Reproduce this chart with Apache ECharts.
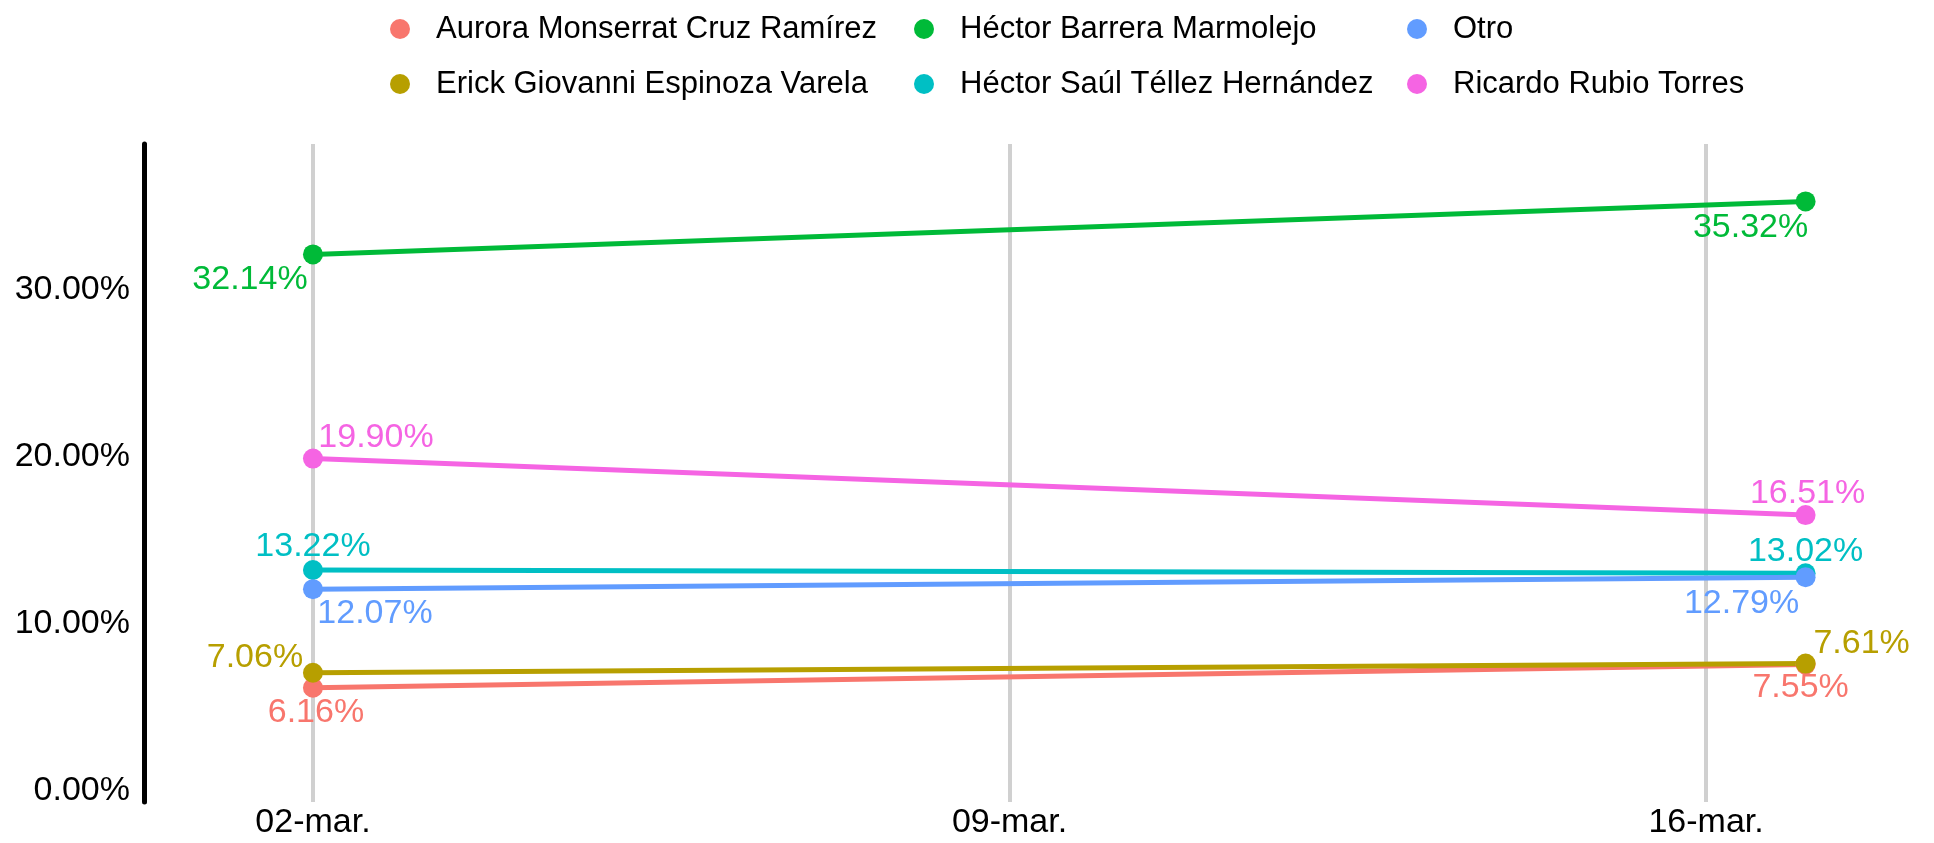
<!DOCTYPE html>
<html>
<head>
<meta charset="utf-8">
<script src="https://cdn.jsdelivr.net/npm/echarts@6/dist/echarts.min.js"></script>
<style>
html, body { margin: 0; padding: 0; background: #fff; }
#main { width: 1934px; height: 843px; }
</style>
</head>
<body>
<div id="main"></div>
<script>
// días de marzo de cada medición
var dias = [2, 17];
var tickDias = [2, 9, 16];
var tickLabels = ['02-mar.', '09-mar.', '16-mar.'];
var yTicks = [0, 10, 20, 30];

var nombres = [
  'Aurora Monserrat Cruz Ramírez',
  'Erick Giovanni Espinoza Varela',
  'Héctor Barrera Marmolejo',
  'Héctor Saúl Téllez Hernández',
  'Otro',
  'Ricardo Rubio Torres'
];
var aurora = [6.16, 7.55];
var erick = [7.06, 7.61];
var barrera = [32.14, 35.32];
var saul = [13.22, 13.02];
var otro = [12.07, 12.79];
var ricardo = [19.90, 16.51];

var colores = ['#F8766D', '#B79F00', '#00BA38', '#00BFC4', '#619CFF', '#F564E3'];
// desplazamiento de etiquetas (px) para que no se encimen
var labelOffsets = [
  [[3, 25], [-5, 23]],
  [[-58, -15], [56, -20]],
  [[-63, 25], [-55, 26]],
  [[0, -23], [0, -22]],
  [[62, 24], [-64, 26]],
  [[63, -21], [2, -21]]
];

var valores = [aurora, erick, barrera, saul, otro, ricardo];
var fuente = 'Liberation Sans, Arial, sans-serif';

var series = valores.map(function (vals, i) {
  return {
    name: nombres[i],
    type: 'line',
    symbol: 'circle',
    symbolSize: 20,
    color: colores[i],
    lineStyle: { width: 5, color: colores[i] },
    emphasis: { disabled: true },
    data: vals.map(function (v, j) {
      return {
        value: [dias[j], v],
        label: { offset: labelOffsets[i][j] }
      };
    }),
    label: {
      show: true,
      position: 'inside',
      align: 'center',
      verticalAlign: 'middle',
      color: colores[i],
      fontSize: 34,
      fontFamily: fuente,
      formatter: function (p) { return p.value[1].toFixed(2) + '%'; }
    }
  };
});

function leyenda(left, items) {
  return {
    orient: 'vertical',
    left: left,
    top: 6,
    itemGap: 19,
    itemWidth: 20,
    itemHeight: 20,
    icon: 'circle',
    selectedMode: false,
    data: items,
    textStyle: {
      fontSize: 31,
      lineHeight: 36,
      color: '#000',
      fontFamily: fuente,
      padding: [0, 0, 0, 21]
    }
  };
}

var myChart = echarts.init(document.getElementById('main'));
myChart.setOption({
  animation: false,
  backgroundColor: '#fff',
  legend: [
    leyenda(385, [nombres[0], nombres[1]]),
    leyenda(909, [nombres[2], nombres[3]]),
    leyenda(1402, [nombres[4], nombres[5]])
  ],
  grid: { left: 144, right: 10, top: 144, bottom: 41 },
  xAxis: {
    type: 'value',
    min: 0.302,
    max: 18.19,
    axisLine: { show: false },
    axisTick: { show: false, customValues: tickDias },
    axisLabel: {
      customValues: tickDias,
      margin: 4,
      fontSize: 34,
      color: '#000',
      fontFamily: fuente,
      formatter: function (v) { return tickLabels[tickDias.indexOf(v)]; }
    },
    splitLine: { show: true, lineStyle: { color: '#d0d0d0', width: 4 } }
  },
  yAxis: {
    type: 'value',
    min: -0.69,
    max: 38.76,
    axisLine: { show: true, lineStyle: { color: '#000', width: 5 } },
    axisTick: { show: false, customValues: yTicks },
    axisLabel: {
      customValues: yTicks,
      margin: 14,
      fontSize: 34,
      color: '#000',
      fontFamily: fuente,
      padding: [10, 0, 0, 0],
      formatter: function (v) { return v.toFixed(2) + '%'; }
    },
    splitLine: { show: false }
  },
  series: series
});
</script>
</body>
</html>
